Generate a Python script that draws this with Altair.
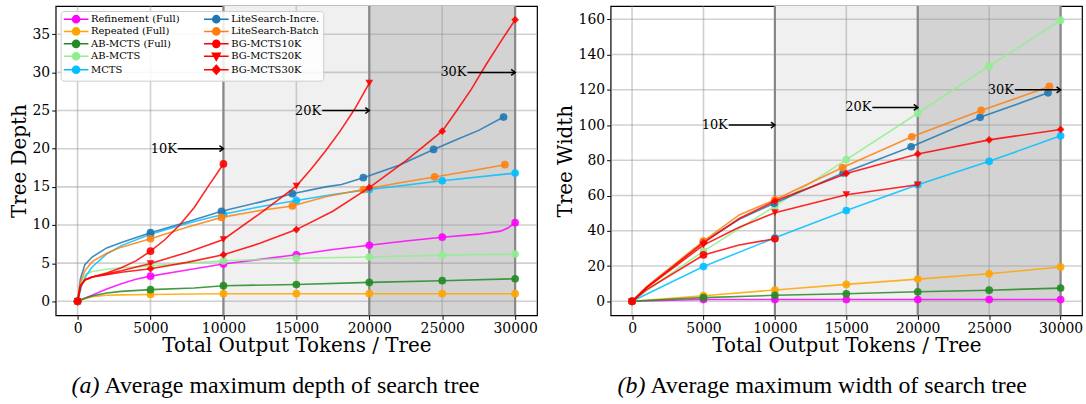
import altair as alt
import pandas as pd

SERIES = ["Refinement (Full)", "Repeated (Full)", "AB-MCTS (Full)", "AB-MCTS", "MCTS",
          "LiteSearch-Incre.", "LiteSearch-Batch", "BG-MCTS10K", "BG-MCTS20K", "BG-MCTS30K"]
COLORS = ["#ff00ff", "#ffa500", "#228b22", "#90ee90", "#00bfff",
          "#1f77b4", "#ff7f0e", "#ff0000", "#ff0000", "#ff0000"]
MARKERS = ["circle"] * 8 + ["triangle-down", "diamond"]

X_TICKS = [0, 5000, 10000, 15000, 20000, 25000, 30000]
STD_MARKS = [0, 5000, 10000, 15000, 20000, 25000, 30000]

# ---------------- (a) depth ----------------
D_REF_X = [0, 500, 1000, 2000, 3000, 4000, 5000, 7500, 10000, 12500, 15000, 17500, 20000, 22500, 25000, 27500, 29000, 29500, 30000]
D_REF_Y = [0, 0.4, 0.8, 1.6, 2.3, 2.9, 3.3, 4.1, 4.9, 5.5, 6.1, 6.8, 7.35, 7.9, 8.4, 8.8, 9.2, 9.6, 10.3]
D_REP_X = [0, 500, 1000, 2000, 3000, 5000, 8000, 10000, 15000, 20000, 25000, 30000]
D_REP_Y = [0, 0.35, 0.6, 0.8, 0.85, 0.9, 0.95, 1.0, 1.0, 1.0, 1.0, 1.0]
D_ABF_X = [0, 500, 1000, 2000, 3000, 5000, 8000, 10000, 15000, 20000, 25000, 30000]
D_ABF_Y = [0, 0.4, 0.7, 1.1, 1.3, 1.53, 1.75, 2.05, 2.2, 2.48, 2.7, 2.96]
D_AB_X = [0, 300, 600, 1000, 2000, 3000, 5000, 7500, 10000, 15000, 20000, 25000, 30000]
D_AB_Y = [0, 2.8, 3.6, 3.9, 4.2, 4.4, 4.65, 5.0, 5.3, 5.65, 5.8, 6.05, 6.2]
D_MCTS_X = [0, 300, 600, 1000, 2000, 3000, 5000, 7500, 10000, 12500, 15000, 17500, 20000, 25000, 30000]
D_MCTS_Y = [0, 2.2, 3.4, 4.5, 6.2, 7.3, 8.8, 10.2, 11.4, 12.4, 13.2, 14.0, 14.65, 15.8, 16.8]
D_LSI_X = [0, 200, 500, 1000, 2000, 3000, 5000, 7500, 9864, 12500, 14727, 17000, 18100, 19590, 22000, 24409, 26000, 27500, 29204]
D_LSI_Y = [0, 3.0, 4.8, 5.8, 7.0, 7.7, 9.0, 10.4, 11.8, 13.0, 14.1, 15.0, 15.3, 16.2, 17.8, 19.9, 21.2, 22.4, 24.15]
D_LSB_X = [0, 200, 500, 1000, 2000, 3000, 5000, 7500, 9864, 12500, 14727, 17000, 19590, 22000, 24477, 27000, 29295]
D_LSB_Y = [0, 2.5, 4.0, 5.2, 6.3, 7.1, 8.2, 9.7, 11.0, 11.9, 12.5, 13.7, 14.65, 15.5, 16.3, 17.1, 17.9]
D_BG10_X = [0, 200, 500, 1000, 2000, 3000, 4000, 5000, 6000, 7000, 8000, 9000, 10000]
D_BG10_Y = [0, 2.0, 2.8, 3.2, 3.7, 4.4, 5.3, 6.57, 8.1, 10.0, 12.3, 15.2, 18.0]
D_BG20_X = [0, 200, 500, 1000, 2000, 3000, 5000, 7500, 10000, 12500, 15000, 16000, 17000, 18000, 19000, 20000]
D_BG20_Y = [0, 2.0, 2.8, 3.2, 3.6, 4.0, 4.96, 6.4, 8.1, 11.5, 15.1, 17.3, 19.7, 22.3, 25.2, 28.6]
D_BG30_X = [0, 200, 500, 1000, 2000, 3000, 5000, 7500, 10000, 12500, 15000, 17500, 20000, 22500, 25000, 26000, 27000, 28000, 29000, 30000]
D_BG30_Y = [0, 2.0, 2.8, 3.2, 3.5, 3.8, 4.27, 5.1, 6.1, 7.6, 9.4, 11.8, 14.9, 18.4, 22.3, 25.0, 27.8, 31.0, 34.0, 36.9]
D_LSI_MARKS = [0, 5000, 9864, 14727, 19590, 24409, 29204]
D_LSB_MARKS = [0, 5000, 9864, 14727, 19590, 24477, 29295]

# ---------------- (b) width ----------------
W_STD_X = [0, 5000, 10000, 15000, 20000, 25000, 30000]
W_REF_Y = [0, 1.0, 1.0, 1.0, 1.0, 1.0, 1.0]
W_REP_Y = [0, 3.2, 6.4, 9.6, 12.6, 15.6, 19.5]
W_ABF_Y = [0, 2.1, 3.4, 4.3, 5.4, 6.3, 7.5]
W_AB_X = [0, 1000, 5000, 10000, 15000, 20000, 25000, 30000]
W_AB_Y = [0, 6.0, 28.5, 54.0, 80.4, 106.7, 133.5, 159.4]
W_MCTS_Y = [0, 19.7, 36.0, 51.5, 66.1, 79.4, 93.9]
W_LSI_X = [0, 1000, 5000, 7500, 9954, 14780, 19538, 24365, 27000, 29122]
W_LSI_Y = [0, 7.8, 33.8, 46.5, 55.6, 72.8, 87.7, 104.4, 112.0, 118.3]
W_LSB_X = [0, 1000, 5000, 7500, 10000, 14734, 19584, 24434, 27000, 29215]
W_LSB_Y = [0, 8.2, 34.2, 49.0, 57.6, 75.9, 93.3, 108.3, 115.5, 121.9]
W_BG10_X = [0, 1000, 5000, 7500, 10000]
W_BG10_Y = [0, 6.5, 26.3, 32.0, 35.5]
W_BG20_X = [0, 1000, 5000, 7500, 10000, 15000, 20000]
W_BG20_Y = [0, 7.5, 31.9, 42.0, 50.3, 60.5, 66.1]
W_BG30_X = [0, 1000, 5000, 7500, 10000, 15000, 20000, 25000, 30000]
W_BG30_Y = [0, 7.8, 33.2, 47.0, 56.9, 72.5, 83.6, 91.6, 97.5]
W_LSI_MARKS = [0, 5000, 9954, 14780, 19538, 24365, 29122]
W_LSB_MARKS = [0, 5000, 10000, 14734, 19584, 24434, 29215]

# annotations: label, text end x, arrow target x, y
D_ANN_LABELS = ["10K", "20K", "30K"]
D_ANN_XT = [6870, 16770, 26730]
D_ANN_XE = [10000, 20000, 30000]
D_ANN_Y = [20, 25, 30]
W_ANN_LABELS = ["10K", "20K", "30K"]
W_ANN_XT = [6770, 16820, 26800]
W_ANN_XE = [10000, 20000, 30000]
W_ANN_Y = [100, 110, 120]

DEPTH = {
    "Refinement (Full)": (D_REF_X, D_REF_Y, STD_MARKS),
    "Repeated (Full)": (D_REP_X, D_REP_Y, STD_MARKS),
    "AB-MCTS (Full)": (D_ABF_X, D_ABF_Y, STD_MARKS),
    "AB-MCTS": (D_AB_X, D_AB_Y, STD_MARKS),
    "MCTS": (D_MCTS_X, D_MCTS_Y, STD_MARKS),
    "LiteSearch-Incre.": (D_LSI_X, D_LSI_Y, D_LSI_MARKS),
    "LiteSearch-Batch": (D_LSB_X, D_LSB_Y, D_LSB_MARKS),
    "BG-MCTS10K": (D_BG10_X, D_BG10_Y, [0, 5000, 10000]),
    "BG-MCTS20K": (D_BG20_X, D_BG20_Y, [0, 5000, 10000, 15000, 20000]),
    "BG-MCTS30K": (D_BG30_X, D_BG30_Y, STD_MARKS),
}
WIDTH = {
    "Refinement (Full)": (W_STD_X, W_REF_Y, STD_MARKS),
    "Repeated (Full)": (W_STD_X, W_REP_Y, STD_MARKS),
    "AB-MCTS (Full)": (W_STD_X, W_ABF_Y, STD_MARKS),
    "AB-MCTS": (W_AB_X, W_AB_Y, STD_MARKS),
    "MCTS": (W_STD_X, W_MCTS_Y, STD_MARKS),
    "LiteSearch-Incre.": (W_LSI_X, W_LSI_Y, W_LSI_MARKS),
    "LiteSearch-Batch": (W_LSB_X, W_LSB_Y, W_LSB_MARKS),
    "BG-MCTS10K": (W_BG10_X, W_BG10_Y, [0, 5000, 10000]),
    "BG-MCTS20K": (W_BG20_X, W_BG20_Y, [0, 5000, 10000, 15000, 20000]),
    "BG-MCTS30K": (W_BG30_X, W_BG30_Y, STD_MARKS),
}

FONT = "DejaVu Serif"
CAP_FONT = "Liberation Serif"
H = 311

# legend symbol paths (line + marker), unit = 4 px at size 64
LINE_P = "M-3.1,0L3.1,0"
SYM_P = {
    "circle": "M-0.9,0A0.9,0.9,0,1,0,0.9,0A0.9,0.9,0,1,0,-0.9,0Z",
    "triangle-down": "M-1,-0.75L1,-0.75L0,1Z",
    "diamond": "M0,-1.1L1,0L0,1.1L-1,0Z",
}
LEG_ORDER = SERIES
LEG_COLORS = COLORS
LEG_PATHS = [LINE_P + SYM_P[m] for m in MARKERS]

ARROW_P = "M-1,-0.75L0,0L-1,0.75"


def panel(data, ydom, yticks, ytitle, ann, W, cap_tag, cap_text, cap_x0, cap_x1):
    xs = alt.Scale(domain=[-1500, 31500], nice=False, zero=False)
    ys = alt.Scale(domain=ydom, nice=False, zero=False)
    xax = alt.Axis(values=X_TICKS, title="Total Output Tokens / Tree", format="d")
    yax = alt.Axis(values=yticks, title=ytitle, format="d")

    def X(f):
        return alt.X(f, type="quantitative", scale=xs, axis=xax)

    def Y(f):
        return alt.Y(f, type="quantitative", scale=ys, axis=yax)

    layers = []
    shade = pd.DataFrame({"x0": [10000, 20000], "x1": [20000, 30000], "fill": ["#f0f0f0", "#d3d3d3"]})
    layers.append(alt.Chart(shade).mark_rect().encode(
        x=X("x0"), x2="x1", y=alt.value(0), y2=alt.value(H),
        fill=alt.Fill("fill:N", scale=None)))
    gx = pd.DataFrame({"v": X_TICKS})
    layers.append(alt.Chart(gx).mark_rule(color="#969696", opacity=0.45, strokeWidth=1.6).encode(
        x=X("v"), y=alt.value(0), y2=alt.value(H)))
    gy = pd.DataFrame({"v": yticks})
    layers.append(alt.Chart(gy).mark_rule(color="#969696", opacity=0.45, strokeWidth=1.6).encode(
        y=Y("v"), x=alt.value(0), x2=alt.value(W)))
    vl = pd.DataFrame({"v": [10000, 20000, 30000]})
    layers.append(alt.Chart(vl).mark_rule(color="#888888", strokeWidth=2.2).encode(
        x=X("v"), y=alt.value(0), y2=alt.value(H)))

    for i, s in enumerate(SERIES):
        lx, ly, mx = data[s]
        df = pd.DataFrame({"x": lx, "y": ly, "i": list(range(len(lx)))})
        lookup = dict(zip(lx, ly))
        mdf = pd.DataFrame({"x": mx, "y": [lookup[v] for v in mx]})
        layers.append(alt.Chart(df).mark_line(color=COLORS[i], strokeWidth=1.6, opacity=0.85).encode(
            x=X("x"), y=Y("y"), order="i:Q"))
        layers.append(alt.Chart(mdf).mark_point(filled=True, shape=MARKERS[i], color=COLORS[i],
                                                size=60, opacity=0.9).encode(x=X("x"), y=Y("y")))

    leg = alt.Legend(title=None, orient="top-left", offset=5, columns=2, columnPadding=21,
                     rowPadding=-1.5, padding=3, fillColor="rgba(255,255,255,0.85)",
                     strokeColor="#cccccc", cornerRadius=3, labelFont=FONT, labelFontSize=10,
                     labelColor="black", symbolSize=64, symbolStrokeWidth=1.5,
                     symbolOffset=7.5, labelOffset=10, symbolOpacity=1)
    ldf = pd.DataFrame({"series": LEG_ORDER, "x": [-50000] * 10, "y": [0] * 10})
    layers.append(alt.Chart(ldf).mark_point(filled=True, clip=True, size=64).encode(
        x=X("x"), y=Y("y"),
        fill=alt.Fill("series:N", scale=alt.Scale(domain=LEG_ORDER, range=LEG_COLORS), legend=leg),
        stroke=alt.Stroke("series:N", scale=alt.Scale(domain=LEG_ORDER, range=LEG_COLORS), legend=leg),
        shape=alt.Shape("series:N", scale=alt.Scale(domain=LEG_ORDER, range=LEG_PATHS), legend=leg)))

    adf = pd.DataFrame({"label": ann[0], "xt": ann[1], "xe": ann[2], "y": ann[3]})
    layers.append(alt.Chart(adf).mark_rule(color="black", strokeWidth=1.5).encode(
        x=X("xt"), x2="xe", y=Y("y")))
    layers.append(alt.Chart(adf).mark_point(shape=ARROW_P, color="black", strokeWidth=1.5,
                                            size=64, opacity=1).encode(x=X("xe"), y=Y("y")))
    layers.append(alt.Chart(adf).mark_text(font=FONT, fontSize=13, align="right", baseline="middle",
                                           color="black", dx=-1).encode(x=X("xt"), y=Y("y"), text="label:N"))

    c1 = pd.DataFrame({"t": [cap_tag]})
    c2 = pd.DataFrame({"t": [cap_text]})
    layers.append(alt.Chart(c1).mark_text(font=CAP_FONT, fontSize=24, fontStyle="italic", align="left",
                                          baseline="middle", color="black").encode(
        x=alt.value(cap_x0), y=alt.value(382), text="t:N"))
    layers.append(alt.Chart(c2).mark_text(font=CAP_FONT, fontSize=24, align="left",
                                          baseline="middle", color="black").encode(
        x=alt.value(cap_x1), y=alt.value(382), text="t:N"))

    return alt.layer(*layers).properties(width=W, height=H)


left = panel(DEPTH, [-1.84, 38.69], [0, 5, 10, 15, 20, 25, 30, 35], "Tree Depth",
             (D_ANN_LABELS, D_ANN_XT, D_ANN_XE, D_ANN_Y), 484,
             "(a)", "Average maximum depth of search tree", 16, 49)
right = panel(WIDTH, [-7.97, 167.5], [0, 20, 40, 60, 80, 100, 120, 140, 160], "Tree Width",
              (W_ANN_LABELS, W_ANN_XT, W_ANN_XE, W_ANN_Y), 474,
              "(b)", "Average maximum width of search tree", 7, 40)

chart = alt.hconcat(left, right, spacing=15).properties(
    padding={"left": 8, "top": 3, "right": 2, "bottom": 0},
    background="white",
).configure_view(stroke="black", strokeWidth=1.2).configure_axis(
    domain=False, grid=False, tickColor="black", tickSize=4, tickWidth=1,
    labelFont=FONT, labelFontSize=14, labelColor="black", labelPadding=2,
    titleFont=FONT, titleFontSize=20, titleFontWeight="normal", titleColor="black", titlePadding=3,
).configure_axisX(titlePadding=0)

chart.save("out.html", embed_options={"renderer": "svg", "actions": False})
